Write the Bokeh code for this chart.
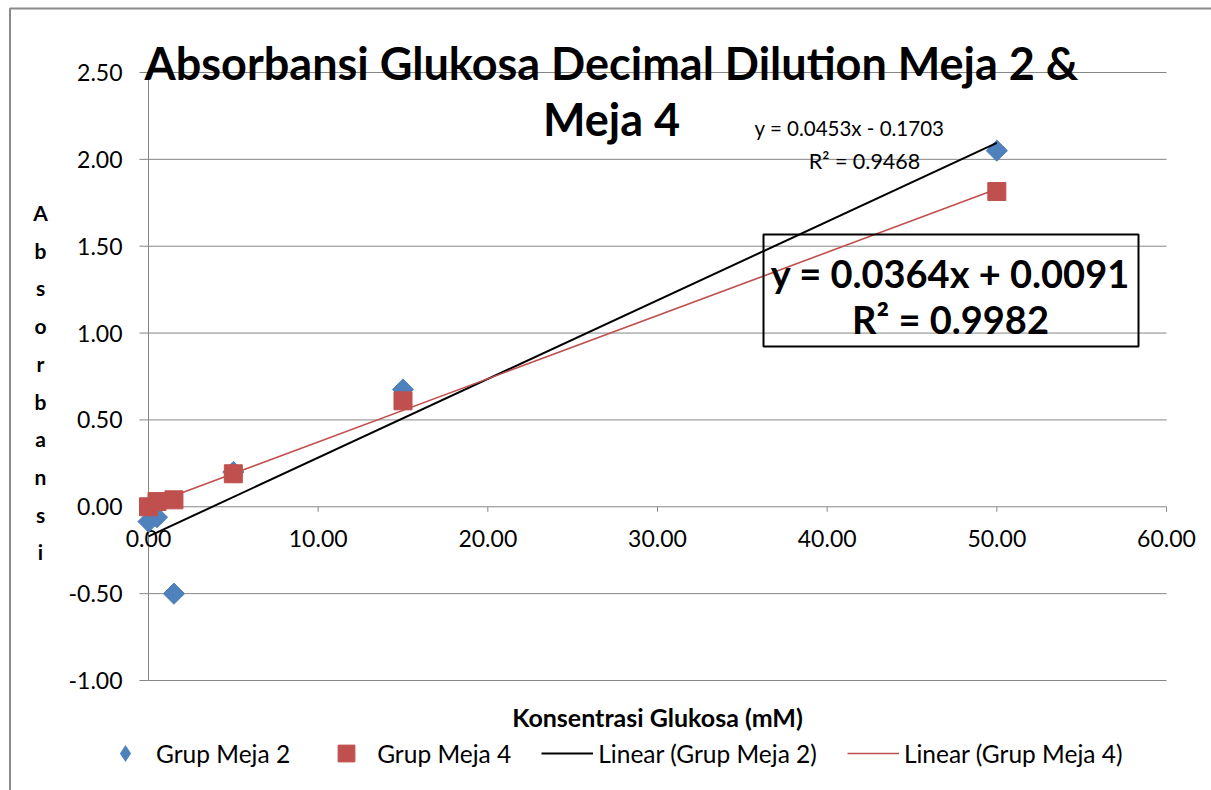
from bokeh.plotting import figure
from bokeh.models import (Range1d, Label, BoxAnnotation, Legend, LegendItem)
from bokeh.core.properties import value
from bokeh.embed import file_html
from bokeh.resources import INLINE
import numpy as np

# ---- data ----
conc = [0.0, 0.5, 1.5, 5.0, 15.0, 50.0]
meja2 = [-0.085, -0.06, -0.50, 0.20, 0.675, 2.05]
meja4 = [0.00, 0.03, 0.04, 0.19, 0.61, 1.815]
fit2_slope, fit2_icpt = 0.0453, -0.1703
fit4_slope, fit4_icpt = 0.0364, 0.0091
x_ticks = [0, 10, 20, 30, 40, 50, 60]
y_ticks = [-1.0, -0.5, 0.0, 0.5, 1.0, 1.5, 2.0, 2.5]
title_lines = ["Absorbansi Glukosa Decimal Dilution Meja 2 &", "Meja 4"]
y_label = "Absorbansi"
x_label = "Konsentrasi Glukosa (mM)"
eq2_lines = ["y = 0.0453x - 0.1703", "R\u00b2 = 0.9468"]
eq4_lines = ["y = 0.0364x + 0.0091", "R\u00b2 = 0.9982"]
series_names = ["Grup Meja 2", "Grup Meja 4", "Linear (Grup Meja 2)", "Linear (Grup Meja 4)"]

BLUE = "#4F81BD"
RED = "#C0504D"
GRAY = "#868686"
FONT = "Lato"

W, H = 1211, 790
X0, X1 = min(x_ticks), max(x_ticks)
Y0, Y1 = min(y_ticks), max(y_ticks)
# plot area in page pixels
FL, FR, FT, FB = 148, 1166, 72, 680
KX = (FR - FL) / (X1 - X0)
KY = (FB - FT) / (Y1 - Y0)


def px2x(px):
    return X0 + (px - FL) / KX


def px2y(py):
    return Y1 - (py - FT) / KY


# the whole canvas is the frame so that texts outside the plot area are not clipped
p = figure(width=W, height=H,
           x_range=Range1d(px2x(0), px2x(W)), y_range=Range1d(px2y(H), px2y(0)),
           output_backend="svg", toolbar_location=None,
           min_border=0, min_border_left=0, min_border_right=0,
           min_border_top=0, min_border_bottom=0)
p.title.visible = False
p.xaxis.visible = False
p.yaxis.visible = False
p.xgrid.visible = False
p.ygrid.visible = False
p.outline_line_color = None
p.background_fill_color = "white"
p.border_fill_color = "white"

# outer chart border
p.add_layout(BoxAnnotation(left=px2x(9.5), top=px2y(8), right=px2x(W + 20), bottom=px2y(H + 20),
                           fill_alpha=0, line_color="#8a8a8a", line_alpha=1, line_width=2,
                           level="underlay"))

# horizontal gridlines over the x span
p.segment(x0=[X0] * len(y_ticks), x1=[X1] * len(y_ticks), y0=y_ticks, y1=y_ticks,
          line_color=GRAY, line_width=1)

# y axis (at x = 0)
p.line([X0, X0], [Y0, Y1], line_color=GRAY, line_width=1)
p.ray(x=[X0] * len(y_ticks), y=y_ticks, length=9, angle=np.pi, length_units="screen",
      line_color=GRAY, line_width=1)
p.text(x=[X0] * len(y_ticks), y=y_ticks, text=[f"{v:.2f}" for v in y_ticks],
       x_offset=-26, text_align="right", text_baseline="middle",
       text_font=value(FONT), text_font_size=value("23px"), text_color="black")

# x axis (crossing at y = 0)
p.ray(x=x_ticks, y=[0] * len(x_ticks), length=5, angle=-np.pi / 2, length_units="screen",
      line_color=GRAY, line_width=1)
p.text(x=x_ticks, y=[0] * len(x_ticks), text=[f"{v:.2f}" for v in x_ticks],
       y_offset=32, text_align="center", text_baseline="middle",
       text_font=value(FONT), text_font_size=value("23px"), text_color="black")

# markers
r_m2 = p.scatter(conc, meja2, marker="square", angle=np.pi / 4, size=15,
                 fill_color=BLUE, line_color=BLUE)
r_m4 = p.scatter(conc, meja4, marker="square", size=18,
                 fill_color=RED, line_color=RED)

# trend lines over the data span
xs = [min(conc), max(conc)]
r_l2 = p.line(xs, [fit2_slope * v + fit2_icpt for v in xs], line_color="black", line_width=2)
r_l4 = p.line(xs, [fit4_slope * v + fit4_icpt for v in xs], line_color=RED, line_width=1.6)

# legend key for the diamond series (zero-size on the plot, shown only in the legend)
r_m2_key = p.scatter(conc, meja2, marker="diamond", size=0, fill_color=BLUE, line_color=None)

# title
for i, t in enumerate(title_lines):
    p.add_layout(Label(x=px2x(611), y=px2y(62 + 56 * i), text=t, text_align="center",
                       text_baseline="middle", text_font=FONT, text_font_style="bold",
                       text_font_size="45px", text_color="black"))

# stacked y label
for i, ch in enumerate(y_label):
    p.add_layout(Label(x=px2x(40), y=px2y(212 + 37.7 * i), text=ch, text_align="center",
                       text_baseline="middle", text_font=FONT, text_font_style="bold",
                       text_font_size="21px", text_color="black"))

# x label
p.add_layout(Label(x=px2x(657), y=px2y(716), text=x_label, text_align="center",
                   text_baseline="middle", text_font=FONT, text_font_style="bold",
                   text_font_size="25px", text_color="black"))

# equations
p.add_layout(Label(x=px2x(849), y=px2y(127), text=eq2_lines[0], text_align="center",
                   text_baseline="middle", text_font=FONT, text_font_size="20.5px",
                   text_color="black"))
p.add_layout(Label(x=px2x(864), y=px2y(160), text=eq2_lines[1], text_align="center",
                   text_baseline="middle", text_font=FONT, text_font_size="21.5px",
                   text_color="black"))
p.add_layout(BoxAnnotation(left=px2x(763), right=px2x(1138), top=px2y(234), bottom=px2y(346),
                           fill_alpha=0, line_color="black", line_alpha=1, line_width=2))
p.add_layout(Label(x=px2x(950), y=px2y(272), text=eq4_lines[0], text_align="center",
                   text_baseline="middle", text_font=FONT, text_font_style="bold",
                   text_font_size="38px", text_color="black"))
p.add_layout(Label(x=px2x(950), y=px2y(318), text=eq4_lines[1], text_align="center",
                   text_baseline="middle", text_font=FONT, text_font_style="bold",
                   text_font_size="38px", text_color="black"))

legend = Legend(items=[LegendItem(label=series_names[0], renderers=[r_m2_key]),
                       LegendItem(label=series_names[1], renderers=[r_m4]),
                       LegendItem(label=series_names[2], renderers=[r_l2]),
                       LegendItem(label=series_names[3], renderers=[r_l4])],
                orientation="horizontal", location=(99, H - 774),
                glyph_width=52, glyph_height=42, label_standoff=5, spacing=30,
                padding=0, margin=0, border_line_color=None, background_fill_alpha=0,
                label_text_font=FONT, label_text_font_size="24.5px", label_text_color="black")
p.add_layout(legend)

open("out.html", "w").write(file_html(p, INLINE))
